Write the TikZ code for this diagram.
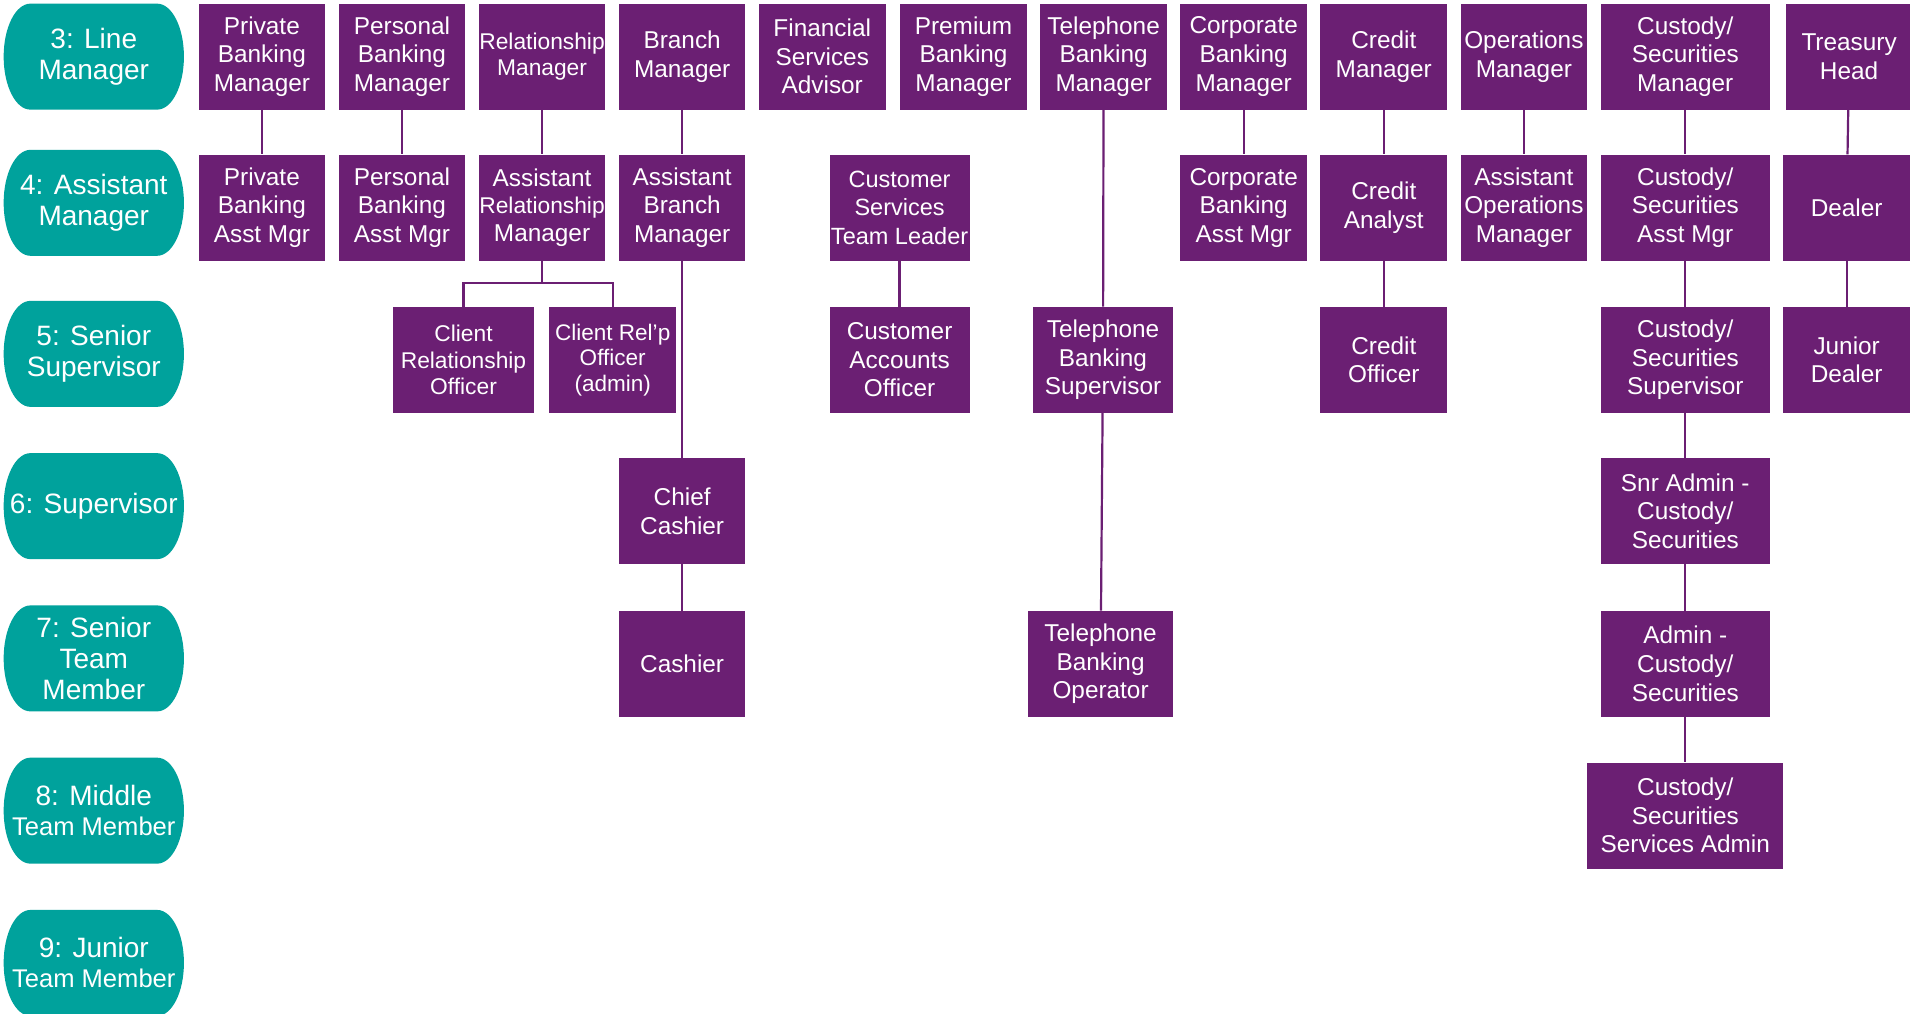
\documentclass[tikz,border=0pt]{standalone}
\usepackage{fontspec}
\setmainfont{Liberation Sans}
\definecolor{purp}{RGB}{107,31,115}
\definecolor{tealc}{RGB}{0,162,156}
\newcommand\pillshape[2]{%
  \fill[tealc] (#1-74+22,#2-43.5) -- (#1+74-22,#2-43.5)
   .. controls (#1+74-22+12.2,#2-43.5) and (#1+74,#2-24) .. (#1+74,#2)
   .. controls (#1+74,#2+24) and (#1+74-22+12.2,#2+43.5) .. (#1+74-22,#2+43.5)
   -- (#1-74+22,#2+43.5)
   .. controls (#1-74+22-12.2,#2+43.5) and (#1-74,#2+24) .. (#1-74,#2)
   .. controls (#1-74,#2-24) and (#1-74+22-12.2,#2-43.5) .. cycle;}
\tikzset{
  role/.style={fill=purp, text=white, inner sep=0pt, minimum height=87pt,
    minimum width=104pt, align=center, font=\fontsize{20}{23.5}\selectfont},
  wide/.style={minimum width=139pt},
  mid/.style={minimum width=115pt},
  small/.style={font=\fontsize{18.7}{22}\selectfont},
  pilltext/.style={text=white, inner sep=0pt, align=center,
    font=\fontsize{23}{25.5}\selectfont},
  link/.style={draw=purp, line width=1.8pt}
}
\newcommand\tm{{\fontsize{21}{24.5}\selectfont Team Member}}
\begin{document}
\begin{tikzpicture}[x=1pt,y=-1pt]
\clip (0,0) rectangle (1568,832);
\fill[white] (0,0) rectangle (1568,832);
% level pills
\pillshape{77}{46.5}
\pillshape{77}{166.5}
\pillshape{77}{290.5}
\pillshape{77}{415.5}
\pillshape{77}{540.5}
\pillshape{77}{665.5}
\pillshape{77}{790.5}
\node[pilltext] (l3) at (77,46.5) {3: Line\\Manager};
\node[pilltext] (l4) at (77,166.5) {4: Assistant\\Manager};
\node[pilltext] (l5) at (77,290.5) {5: Senior\\Supervisor};
\node[pilltext] (l6) at (77,415.5) {6: Supervisor};
\node[pilltext] (l7) at (77,540.5) {7: Senior\\Team\\Member};
\node[pilltext, font=\fontsize{23}{24.7}\selectfont] (l8) at (77,665.5) {8: Middle\\\tm};
\node[pilltext, font=\fontsize{23}{24.7}\selectfont] (l9) at (77,790.5) {9: Junior\\\tm};
% row 3
\node[role] (pbm) at (215,46.5) {Private\\Banking\\Manager};
\node[role] (psm) at (330,46.5) {Personal\\Banking\\Manager};
\node[role, small] (rm) at (445,46.5) {Relationship\\Manager};
\node[role] (bm) at (560,46.5) {Branch\\Manager};
\node[role] (fsa) at (675,46.5) {Financial\\Services\\Advisor};
\node[role] (pkm) at (791,46.5) {Premium\\Banking\\Manager};
\node[role] (tbm) at (906,46.5) {Telephone\\Banking\\Manager};
\node[role] (cbm) at (1021,46.5) {Corporate\\Banking\\Manager};
\node[role] (crm) at (1136,46.5) {Credit\\Manager};
\node[role] (opm) at (1251,46.5) {Operations\\Manager};
\node[role, wide] (csm) at (1383.5,46.5) {Custody/\\Securities\\Manager};
\node[role] (trh) at (1518,46.5) {Treasury\\Head};
% row 4
\node[role] (pbam) at (215,170.5) {Private\\Banking\\Asst Mgr};
\node[role] (psam) at (330,170.5) {Personal\\Banking\\Asst Mgr};
\node[role, font=\fontsize{20}{22.5}\selectfont] (aram) at (445,170.5) {Assistant\\{\fontsize{18.7}{22.5}\selectfont Relationship}\\Manager};
\node[role] (abm) at (560,170.5) {Assistant\\Branch\\Manager};
\node[role, mid, font=\fontsize{19.3}{23.5}\selectfont] (cstl) at (738.5,170.5) {Customer\\Services\\Team Leader};
\node[role] (cbam) at (1021,170.5) {Corporate\\Banking\\Asst Mgr};
\node[role] (cran) at (1136,170.5) {Credit\\Analyst};
\node[role] (aom) at (1251,170.5) {Assistant\\Operations\\Manager};
\node[role, wide] (csam) at (1383.5,170.5) {Custody/\\Securities\\Asst Mgr};
\node[role] (dlr) at (1516,170.5) {Dealer};
% row 5
\node[role, mid, small] (cro) at (380.5,295.5) {Client\\Relationship\\Officer};
\node[role, font=\fontsize{18.5}{21}\selectfont] (crpa) at (503,295.5) {Client Rel’p\\Officer\\(admin)};
\node[role, mid] (cao) at (738.5,295.5) {Customer\\Accounts\\Officer};
\node[role, mid] (tbs) at (905.5,295.5) {Telephone\\Banking\\Supervisor};
\node[role] (cro2) at (1136,295.5) {Credit\\Officer};
\node[role, wide] (css) at (1383.5,295.5) {Custody/\\Securities\\Supervisor};
\node[role] (jdl) at (1516,295.5) {Junior\\Dealer};
% row 6
\node[role] (chc) at (560,419.5) {Chief\\Cashier};
\node[role, wide] (sacs) at (1383.5,419.5) {Snr Admin -\\Custody/\\Securities};
% row 7
\node[role] (cash) at (560,545) {Cashier};
\node[role, minimum width=119pt] (tbo) at (903.5,545) {Telephone\\Banking\\Operator};
\node[role, wide] (acs) at (1383.5,545) {Admin -\\Custody/\\Securities};
% row 8
\node[role, minimum width=161pt] (cssa) at (1383.5,669.5) {Custody/\\Securities\\Services Admin};
% connectors
\coordinate (fork) at (445,232);
\draw[link] (pbm) -- (pbam);
\draw[link] (psm) -- (psam);
\draw[link] (rm) -- (aram);
\draw[link] (aram.south) -- (fork);
\draw[link] (cro.north) |- (fork) -| (crpa.north);
\draw[link] (bm) -- (abm);
\draw[link] (abm) -- (chc);
\draw[link] (chc) -- (cash);
\draw[link] (cstl) -- (cao);
\draw[link] (tbm) -- (tbs);
\draw[link] (tbs) -- (tbo);
\draw[link] (cbm) -- (cbam);
\draw[link] (crm) -- (cran);
\draw[link] (cran) -- (cro2);
\draw[link] (opm) -- (aom);
\draw[link] (csm) -- (csam);
\draw[link] (csam) -- (css);
\draw[link] (css) -- (sacs);
\draw[link] (sacs) -- (acs);
\draw[link] (acs) -- (cssa);
\draw[link] (trh) -- (dlr);
\draw[link] (dlr) -- (jdl);
\end{tikzpicture}
\end{document}
